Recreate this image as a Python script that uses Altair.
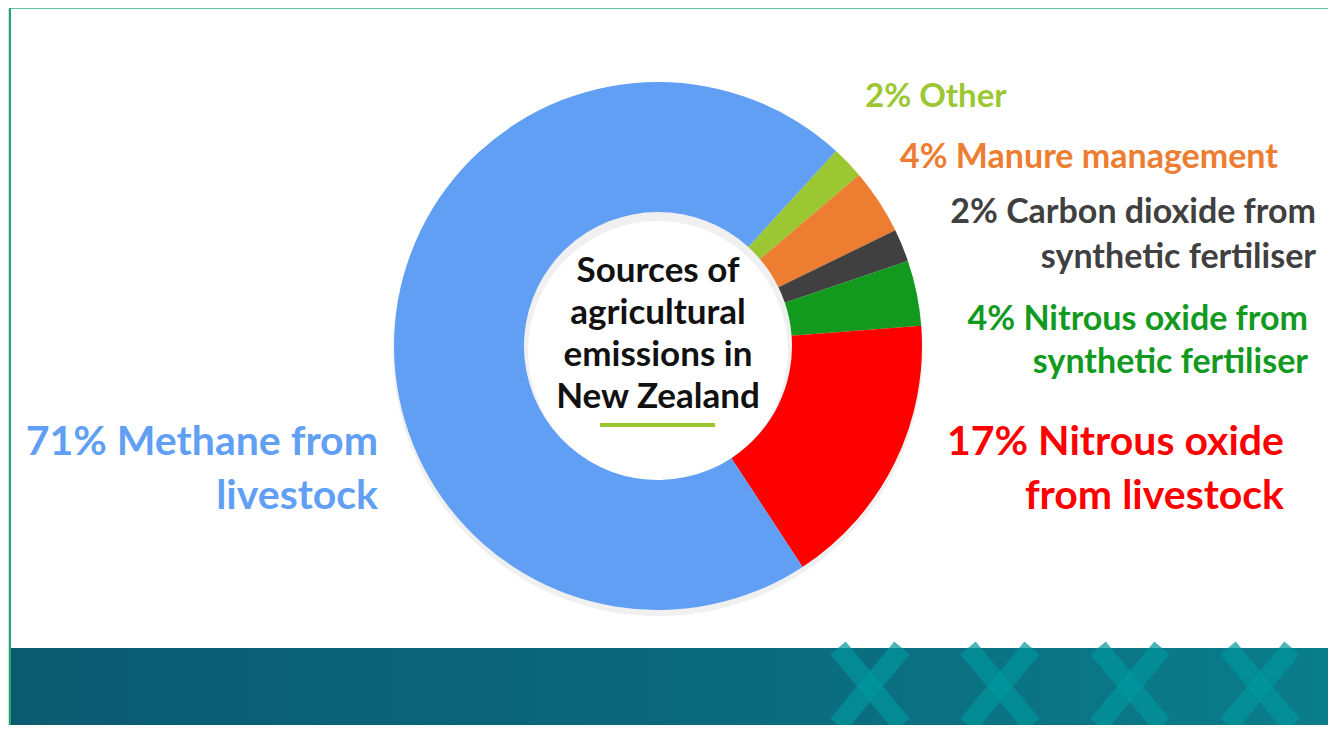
import math
import altair as alt
import pandas as pd

# ---- data ----
categories = [
    "Other",
    "Manure management",
    "Carbon dioxide from synthetic fertiliser",
    "Nitrous oxide from synthetic fertiliser",
    "Nitrous oxide from livestock",
    "Methane from livestock",
]
shares = [2, 4, 2, 4, 17, 71]
colors = ["#9bc832", "#ed7d31", "#404040", "#129a1f", "#fe0000", "#619ff5"]
label_text = [
    "2% Other",
    "4% Manure management",
    "2% Carbon dioxide from\nsynthetic fertiliser",
    "4% Nitrous oxide from\nsynthetic fertiliser",
    "17% Nitrous oxide\nfrom livestock",
    "71% Methane from\nlivestock",
]
center_title = "Sources of\nagricultural\nemissions in\nNew Zealand"

df = pd.DataFrame({
    "idx": list(range(len(categories))),
    "category": categories,
    "share": shares,
    "label": label_text,
})

FONT = "Lato"
START = math.radians(42.4)
CX, CY = 650, 338

base = alt.Chart(df)
one = pd.DataFrame({"k": [1]})

# soft shadow behind donut
shadow = alt.Chart(one).mark_arc(
    theta=0, theta2=2 * math.pi, outerRadius=265, innerRadius=130,
    color="#e2e2e2", opacity=0.5
).encode(x=alt.value(CX), y=alt.value(CY + 5))

donut = base.mark_arc(outerRadius=264, innerRadius=134).encode(
    theta=alt.Theta("share:Q", stack=True,
                    scale=alt.Scale(range=[START, START + 2 * math.pi])),
    order=alt.Order("idx:Q"),
    color=alt.Color("category:N", scale=alt.Scale(domain=categories, range=colors), legend=None),
    x=alt.value(CX),
    y=alt.value(CY),
)

# label positions (style only); y = centre of first line
label_specs = [
    dict(x=857, y=89, align="left", size=33, lh=40),
    dict(x=892, y=150, align="left", size=34, lh=40),
    dict(x=1308, y=205, align="right", size=34, lh=45),
    dict(x=1300, y=312, align="right", size=34, lh=43),
    dict(x=1276, y=435, align="right", size=41, lh=54),
    dict(x=370, y=435, align="right", size=41, lh=54),
]
label_layers = []
for cat, col, spec in zip(categories, colors, label_specs):
    label_layers.append(
        base.transform_filter(alt.datum.category == cat).mark_text(
            x=spec["x"], y=spec["y"], align=spec["align"], baseline="middle",
            font=FONT, fontWeight="bold", fontSize=spec["size"],
            lineHeight=spec["lh"], lineBreak="\n", color=col,
        ).encode(text="label:N")
    )

center = alt.Chart(pd.DataFrame({"t": [center_title]})).mark_text(
    x=CX, y=263, align="center", baseline="middle", font=FONT, fontWeight="bold",
    fontSize=35, lineHeight=42, lineBreak="\n", color="#111111",
).encode(text="t:N")

underline = alt.Chart(one).mark_rule(
    color="#9bc832", strokeWidth=4
).encode(x=alt.value(592), x2=alt.value(707), y=alt.value(417))

# frame lines
frame_top = alt.Chart(one).mark_rule(
    color="#5cc89a", strokeWidth=2
).encode(x=alt.value(2), x2=alt.value(1320), y=alt.value(0))
frame_left = alt.Chart(one).mark_rule(
    color="#1aa86a", strokeWidth=2
).encode(x=alt.value(2), y=alt.value(0), y2=alt.value(717))

# bottom band
band = alt.Chart(one).mark_rect(
    color=alt.LinearGradient(
        gradient="linear", x1=0, x2=1, y1=0, y2=0,
        stops=[
            alt.GradientStop(offset=0, color="#0b5a70"),
            alt.GradientStop(offset=0.55, color="#0b6a7d"),
            alt.GradientStop(offset=1, color="#0a7d8a"),
        ],
    )
).encode(x=alt.value(3), x2=alt.value(1320), y=alt.value(640), y2=alt.value(717))

stripes = []
for x0 in [830, 960, 1090, 1220]:
    for xa, xb in [(x0, x0 + 64), (x0 + 64, x0)]:
        stripes.append(alt.Chart(one).mark_rule(
            color="#00959c", strokeWidth=20, opacity=0.7, strokeCap="butt"
        ).encode(x=alt.value(xa), x2=alt.value(xb), y=alt.value(640), y2=alt.value(717)))

chart = alt.layer(
    band, *stripes, frame_top, frame_left, shadow, donut, center, underline, *label_layers
).properties(
    width=1320, height=717, autosize=alt.AutoSizeParams(type="none"), padding=0
).configure_view(stroke=None, clip=False).configure(background="white")

chart.save("out.html", embed_options={"renderer": "svg", "actions": False})
